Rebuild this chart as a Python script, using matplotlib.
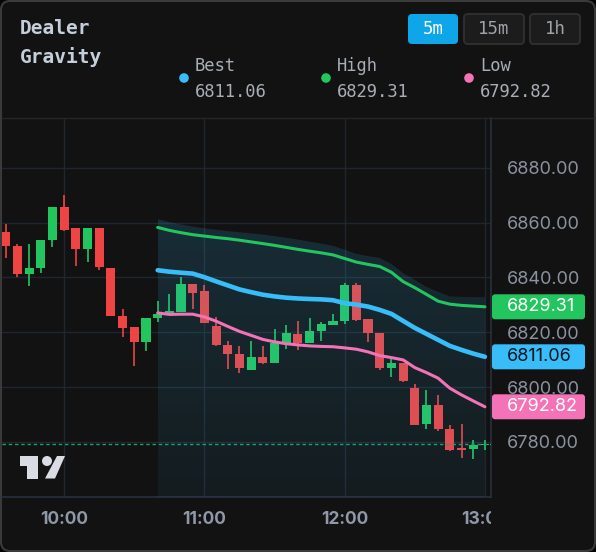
import numpy as np
import pandas as pd
import matplotlib.pyplot as plt
import matplotlib.dates as mdates
from matplotlib.patches import FancyBboxPatch, Circle, Polygon
from matplotlib.lines import Line2D
from matplotlib.transforms import IdentityTransform, Bbox, blended_transform_factory
from matplotlib.colors import to_rgb

W, H = 596, 552

# 5 minute candles, 09:35 -> 13:00
times = pd.date_range("2024-01-02 09:35", "2024-01-02 13:00", freq="5min")
opens = [6856.5, 6851.6, 6841.3, 6843.5, 6853.6, 6865.8, 6858.2, 6850.5, 6858.2, 6843.6,
         6826.0, 6821.9, 6816.6, 6825.3, 6826.8, 6827.3, 6837.7, 6835.2, 6822.4, 6815.4,
         6812.0, 6806.4, 6810.9, 6808.9, 6816.0, 6819.5, 6816.0, 6820.6, 6822.7, 6824.2,
         6837.3, 6824.8, 6819.7, 6807.1, 6808.9, 6799.7, 6786.7, 6793.4, 6784.7, 6777.7,
         6777.3, 6778.9]
highs = [6859.6, 6852.3, 6852.3, 6853.7, 6865.8, 6870.1, 6858.2, 6858.0, 6858.2, 6843.6,
         6828.5, 6821.9, 6825.4, 6831.5, 6834.1, 6840.3, 6837.7, 6837.2, 6825.6, 6816.7,
         6815.0, 6816.9, 6815.0, 6821.2, 6822.6, 6824.0, 6825.2, 6823.6, 6826.7, 6838.0,
         6837.9, 6824.8, 6819.7, 6810.2, 6808.9, 6801.2, 6799.0, 6797.2, 6786.0, 6786.6,
         6780.7, 6780.7]
lows = [6847.0, 6840.3, 6837.0, 6841.8, 6851.3, 6857.1, 6844.3, 6845.8, 6842.8, 6826.0,
        6818.4, 6807.8, 6813.0, 6823.6, 6826.8, 6827.3, 6828.5, 6823.3, 6815.0, 6806.5,
        6805.1, 6806.4, 6808.5, 6808.9, 6813.8, 6813.6, 6816.0, 6817.0, 6822.7, 6823.1,
        6824.3, 6816.4, 6806.3, 6803.8, 6801.9, 6786.3, 6784.6, 6783.9, 6776.7, 6774.3,
        6773.8, 6777.0]
closes = [6851.5, 6841.3, 6843.6, 6853.7, 6865.8, 6857.4, 6850.3, 6858.0, 6844.0, 6826.0,
          6821.6, 6816.6, 6825.4, 6826.5, 6827.6, 6837.7, 6834.5, 6823.3, 6815.4, 6812.1,
          6807.1, 6811.1, 6808.9, 6816.2, 6819.7, 6816.2, 6820.6, 6823.0, 6824.2, 6837.3,
          6824.5, 6819.8, 6806.8, 6808.9, 6802.4, 6786.3, 6793.4, 6784.6, 6777.2, 6777.1,
          6778.8, 6779.4]

# gravity levels start at 10:40
band_start = 13
best = [6842.66, 6842.12, 6841.75, 6841.42, 6840.11, 6838.58, 6837.12, 6835.66, 6834.64, 6833.72,
        6833.10, 6832.63, 6832.34, 6832.15, 6832.01, 6831.72, 6830.62, 6830.11, 6829.38, 6828.18,
        6826.72, 6824.16, 6821.61, 6819.42, 6817.23, 6815.04, 6813.58, 6812.23, 6811.06]
high_lvl = [6858.28, 6857.19, 6856.35, 6855.62, 6855.11, 6854.60, 6854.16, 6853.61, 6852.99, 6852.37,
            6851.72, 6850.99, 6850.26, 6849.60, 6848.98, 6848.25, 6846.93, 6845.62, 6844.78, 6844.01,
            6841.90, 6838.50, 6836.28, 6833.83, 6831.35, 6830.26, 6829.82, 6829.56, 6829.31]
low_lvl = [6827.08, 6826.53, 6826.61, 6826.61, 6825.62, 6824.05, 6822.15, 6820.33, 6818.87, 6817.41,
           6816.50, 6815.84, 6815.40, 6815.04, 6814.85, 6814.74, 6814.31, 6813.83, 6812.85, 6811.50,
           6810.77, 6809.93, 6807.12, 6805.29, 6803.25, 6799.60, 6797.15, 6794.96, 6792.82]
band_top = [6861.28, 6860.18, 6859.31, 6858.58, 6857.92, 6857.45, 6856.93, 6856.50, 6856.09, 6855.69,
            6855.11, 6854.45, 6853.83, 6853.07, 6852.37, 6851.53, 6850.15, 6848.61, 6847.81, 6847.08,
            6844.96, 6841.57, 6839.12, 6836.57, 6834.74, 6833.10, 6832.92, 6832.85, 6832.81]

last_price = 6779.4
yticks = [6780, 6800, 6820, 6840, 6860, 6880]
xtick_times = ["10:00", "11:00", "12:00", "13:00"]
buttons = ["5m", "15m", "1h"]

BG = "#121212"
UP, DOWN = "#22c55e", "#ef4444"
BLUE, GREEN, PINK = "#38bdf8", "#22c55e", "#f472b6"
MONO = "DejaVu Sans Mono"

fig = plt.figure(figsize=(W / 100, H / 100), dpi=100, facecolor="#050505")
px = IdentityTransform()


def box(x0, y0, x1, y1, r, **kw):
    p = FancyBboxPatch((x0, H - y1), x1 - x0, y1 - y0,
                       boxstyle=f"round,pad=0,rounding_size={r}", transform=px, **kw)
    fig.add_artist(p)
    return p


box(1, 1, 595, 551, 9, fc=BG, ec="#3a3a3a", lw=1.5, zorder=-5)
fig.add_artist(Line2D([2, 594], [H - 117.5] * 2, transform=px, color="#262626", lw=1))

ax = fig.add_axes([2 / W, 55 / H, 489 / W, 379 / H])
ax.set_facecolor("none")

x = mdates.date2num(times)
step = x[1] - x[0]
xlo, xhi = x[0] - 0.32 * step, x[-1] + 0.52 * step
ylo, yhi = 6759.9, 6898.2

o, h, l, c = map(np.array, (opens, highs, lows, closes))
cols = [UP if cc >= oo else DOWN for oo, cc in zip(o, c)]
ax.vlines(x, l, h, colors=cols, lw=1.2, zorder=3)
ax.bar(x, np.maximum(np.abs(c - o), 0.4), bottom=np.minimum(o, c), width=step * 0.78,
       color=cols, zorder=3)

# shaded band under the gravity levels
xb = x[band_start:]
poly = ax.fill_between(xb, band_top, ylo, color="none", lw=0)
grad = np.zeros((256, 1, 4))
grad[..., :3] = to_rgb(BLUE)
grad[..., 3] = np.linspace(0.16, 0.06, 256)[:, None]
im = ax.imshow(grad, extent=[xb[0], xb[-1], ylo, max(band_top)], origin="upper",
               aspect="auto", interpolation="bilinear", zorder=4)
im.set_clip_path(poly.get_paths()[0], transform=ax.transData)

ax.plot(xb, high_lvl, color=GREEN, lw=2.2, zorder=5, solid_capstyle="round")
ax.plot(xb, best, color=BLUE, lw=3.3, zorder=5, solid_capstyle="round")
ax.plot(xb, low_lvl, color=PINK, lw=2.2, zorder=5, solid_capstyle="round")
ax.axhline(last_price, color="#1f9e6e", lw=1, ls=(0, (2.5, 2)), zorder=6)

ax.set_xlim(xlo, xhi)
ax.set_ylim(ylo, yhi)

hour_x = [mdates.date2num(pd.Timestamp("2024-01-02 " + t)) for t in xtick_times]
ax.set_xticks(hour_x)
ax.set_yticks(yticks)
ax.yaxis.tick_right()
ax.yaxis.set_major_formatter(lambda v, p: f"{v:.2f}")
ax.tick_params(axis="x", length=0, labelbottom=False)
ax.tick_params(axis="y", length=0, pad=11.5, labelsize=13, labelcolor="#8b93a1",
               labelfontfamily="Inter")
ax.grid(color="#20262f", lw=1)
for s in ["top", "left"]:
    ax.spines[s].set_visible(False)
for s in ["bottom", "right"]:
    ax.spines[s].set_color("#283140")
    ax.spines[s].set_linewidth(1.2)

# time labels, clipped at the price scale
xtr = blended_transform_factory(ax.transData, fig.transFigure)
clip = Bbox([[0, 0], [491, H]])
for hx, lab in zip(hour_x, xtick_times):
    t = fig.text(hx, 1 - 519 / H, lab, transform=xtr, ha="center", va="center",
                 family="Inter", weight="bold", size=12.5, color="#8f98a8")
    t.set_clip_box(clip)
    t.set_clip_on(True)

# last value tags on the price scale
for val, colr, tcol in [(high_lvl[-1], GREEN, "white"), (best[-1], BLUE, "#0b1320"),
                        (low_lvl[-1], PINK, "white")]:
    yd = H - ax.transData.transform((x[0], val))[1]
    box(492, yd - 12.5, 585, yd + 12.5, 3, fc=colr, ec="none", zorder=2)
    fig.text(507 / W, 1 - yd / H, f"{val:.2f}", ha="left", va="center", family="Inter",
             size=13, color=tcol, zorder=3)

# header
fig.text(20 / W, 1 - 34 / H, "Dealer", family=MONO, weight="bold", size=14,
         color="#c5cfdc", va="baseline")
fig.text(20 / W, 1 - 63 / H, "Gravity", family=MONO, weight="bold", size=14,
         color="#c5cfdc", va="baseline")

legend = [("Best", best[-1], BLUE, 184), ("High", high_lvl[-1], GREEN, 326),
          ("Low", low_lvl[-1], PINK, 469)]
for name, val, colr, dx in legend:
    fig.add_artist(Circle((dx, H - 78), 4.8, transform=px, fc=colr, ec="none"))
    fig.text((dx + 11) / W, 1 - 70.7 / H, name, family=MONO, size=12.3, color="#a9aeb6",
             va="baseline")
    fig.text((dx + 11) / W, 1 - 96.7 / H, f"{val:.2f}", family=MONO, size=12.3,
             color="#a9aeb6", va="baseline")

btn_x = [(408, 458), (464, 524), (530, 580)]
for i, (lab, (b0, b1)) in enumerate(zip(buttons, btn_x)):
    active = i == 0
    box(b0, 14, b1, 44, 4, fc="#0ea5e9" if active else "#1c1c1c",
        ec="none" if active else "#2e2e2e", lw=1.5)
    fig.text((b0 + b1) / 2 / W, 1 - 29.5 / H, lab, family=MONO, size=12.5,
             color="white" if active else "#a0a4aa", ha="center", va="center")

# watermark logo
logo = "#d9dce3"
fig.add_artist(Polygon([(20, H - 456), (38, H - 456), (38, H - 478.5), (27, H - 478.5),
                        (27, H - 466), (20, H - 466)], transform=px, fc=logo, ec="none"))
fig.add_artist(Circle((47, H - 461), 5, transform=px, fc=logo, ec="none"))
fig.add_artist(Polygon([(57, H - 456), (65, H - 456), (55, H - 478.5), (45, H - 478.5)],
                       transform=px, fc=logo, ec="none"))

fig.savefig("out.png", dpi=100, facecolor=fig.get_facecolor())
